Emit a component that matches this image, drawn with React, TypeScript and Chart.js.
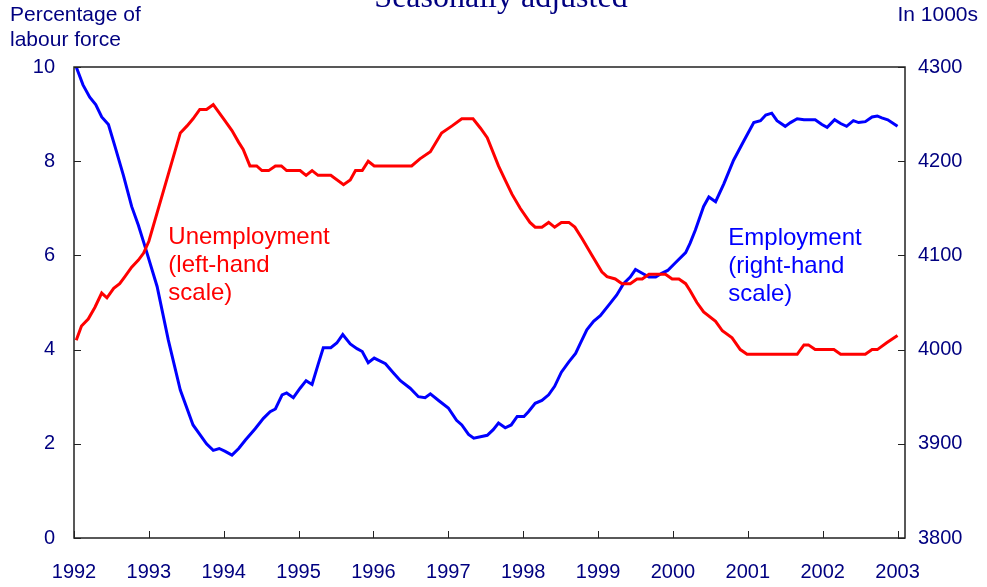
import React, { useEffect, useRef } from "react";
import { Chart, registerables } from "chart.js";

Chart.register(...registerables);

// ---- Data (decimal years) ----
const unempYears = [
  1992.03, 1992.10, 1992.19, 1992.28, 1992.37, 1992.44, 1992.53, 1992.61, 1992.68, 1992.77,
  1992.86, 1992.93, 1993.00, 1993.42, 1993.51, 1993.59, 1993.68, 1993.77, 1993.86, 1994.02,
  1994.11, 1994.20, 1994.26, 1994.35, 1994.44, 1994.51, 1994.60, 1994.69, 1994.77, 1994.84,
  1995.02, 1995.10, 1995.18, 1995.26, 1995.43, 1995.60, 1995.69, 1995.76, 1995.85, 1995.93,
  1996.01, 1996.51, 1996.62, 1996.76, 1996.91, 1997.05, 1997.18, 1997.33, 1997.43, 1997.52,
  1997.67, 1997.76, 1997.85, 1997.96, 1998.09, 1998.16, 1998.25, 1998.34, 1998.42, 1998.51,
  1998.61, 1998.69, 1998.79, 1998.92, 1999.05, 1999.12, 1999.23, 1999.32, 1999.43, 1999.52,
  1999.59, 1999.68, 1999.90, 1999.99, 2000.08, 2000.17, 2000.23, 2000.32, 2000.41, 2000.57,
  2000.66, 2000.79, 2000.90, 2000.99, 2001.66, 2001.75, 2001.81, 2001.90, 2002.15, 2002.24,
  2002.57, 2002.66, 2002.73, 2002.86, 2003.00,
];
const unempValues = [
  4.2, 4.5, 4.65, 4.9, 5.2, 5.1, 5.3, 5.4, 5.55, 5.75,
  5.9, 6.05, 6.3, 8.6, 8.75, 8.9, 9.1, 9.1, 9.2, 8.85,
  8.65, 8.4, 8.25, 7.9, 7.9, 7.8, 7.8, 7.9, 7.9, 7.8,
  7.8, 7.7, 7.8, 7.7, 7.7, 7.5, 7.6, 7.8, 7.8, 8.0,
  7.9, 7.9, 8.05, 8.2, 8.6, 8.75, 8.9, 8.9, 8.7, 8.5,
  7.9, 7.6, 7.3, 7.0, 6.7, 6.6, 6.6, 6.7, 6.6, 6.7,
  6.7, 6.6, 6.35, 6.0, 5.65, 5.55, 5.5, 5.4, 5.4, 5.5,
  5.5, 5.6, 5.6, 5.5, 5.5, 5.4, 5.25, 5.0, 4.8, 4.6,
  4.4, 4.25, 4.0, 3.9, 3.9, 4.1, 4.1, 4.0, 4.0, 3.9,
  3.9, 4.0, 4.0, 4.15, 4.3,
];

const emplYears = [
  1992.03, 1992.12, 1992.21, 1992.29, 1992.37, 1992.46, 1992.55, 1992.66, 1992.77, 1992.86,
  1992.95, 1993.11, 1993.26, 1993.42, 1993.59, 1993.77, 1993.86, 1993.94, 1994.02, 1994.11,
  1994.20, 1994.29, 1994.42, 1994.53, 1994.62, 1994.69, 1994.78, 1994.84, 1994.93, 1995.02,
  1995.10, 1995.18, 1995.26, 1995.33, 1995.43, 1995.51, 1995.59, 1995.69, 1995.78, 1995.85,
  1995.93, 1996.01, 1996.16, 1996.27, 1996.36, 1996.49, 1996.60, 1996.69, 1996.76, 1996.87,
  1997.00, 1997.11, 1997.18, 1997.27, 1997.34, 1997.52, 1997.60, 1997.67, 1997.76, 1997.84,
  1997.92, 1998.01, 1998.07, 1998.16, 1998.25, 1998.34, 1998.42, 1998.51, 1998.61, 1998.70,
  1998.76, 1998.85, 1998.94, 1999.03, 1999.14, 1999.25, 1999.34, 1999.43, 1999.50, 1999.59,
  1999.68, 1999.77, 1999.85, 1999.93, 2000.03, 2000.17, 2000.23, 2000.30, 2000.41, 2000.48,
  2000.57, 2000.68, 2000.81, 2000.95, 2001.08, 2001.17, 2001.24, 2001.32, 2001.39, 2001.50,
  2001.57, 2001.66, 2001.75, 2001.90, 2001.99, 2002.06, 2002.16, 2002.24, 2002.32, 2002.41,
  2002.48, 2002.57, 2002.66, 2002.73, 2002.79, 2002.87, 2003.00,
];
const emplValues = [
  4300, 4281, 4268, 4260, 4247, 4239, 4215, 4185, 4152, 4132,
  4109, 4067, 4010, 3957, 3920, 3900, 3893, 3895, 3892, 3888,
  3895, 3904, 3916, 3927, 3934, 3937, 3952, 3954, 3949, 3959,
  3967, 3963, 3984, 4002, 4002, 4007, 4016, 4006, 4001, 3998,
  3986, 3991, 3985, 3975, 3967, 3959, 3950, 3949, 3953, 3946,
  3938, 3925, 3920, 3910, 3906, 3909, 3915, 3922, 3917, 3920,
  3929, 3929, 3934, 3943, 3946, 3952, 3961, 3976, 3987, 3996,
  4006, 4021, 4030, 4036, 4047, 4058, 4070, 4077, 4085, 4081,
  4077, 4077, 4081, 4084, 4092, 4103, 4113, 4127, 4152, 4162,
  4157, 4176, 4201, 4222, 4241, 4243, 4249, 4251, 4243, 4237,
  4241, 4245, 4244, 4244, 4239, 4236, 4244, 4240, 4237, 4243,
  4241, 4242, 4247, 4248, 4246, 4244, 4237,
];

const yearTicks = [1992, 1993, 1994, 1995, 1996, 1997, 1998, 1999, 2000, 2001, 2002, 2003];
const leftTicks = [0, 2, 4, 6, 8, 10];
const rightTicks = [3800, 3900, 4000, 4100, 4200, 4300];

const titleText = "Seasonally adjusted";
const leftAxisTitle = ["Percentage of", "labour force"];
const rightAxisTitle = "In 1000s";
const unempLabel = ["Unemployment", "(left-hand", "scale)"];
const emplLabel = ["Employment", "(right-hand", "scale)"];

const NAVY = "#000080";
const SANS = "'Liberation Sans', Arial, sans-serif";

export default function App() {
  const canvasRef = useRef<HTMLCanvasElement | null>(null);

  useEffect(() => {
    document.body.style.margin = "0";
    const canvas = canvasRef.current;
    if (!canvas) return;

    const decorations = {
      id: "decorations",
      afterDraw(chart: any) {
        const { ctx, chartArea } = chart;
        const x = chart.scales.x;
        const yl = chart.scales.yLeft;
        const yr = chart.scales.yRight;
        ctx.save();
        // frame
        ctx.strokeStyle = "#222";
        ctx.lineWidth = 1.5;
        ctx.strokeRect(chartArea.left, chartArea.top, chartArea.right - chartArea.left, chartArea.bottom - chartArea.top);
        // inward ticks
        ctx.lineWidth = 1;
        ctx.beginPath();
        const tl = 7;
        yearTicks.forEach((v) => {
          const px = Math.round(x.getPixelForValue(v)) + 0.5;
          ctx.moveTo(px, chartArea.bottom);
          ctx.lineTo(px, chartArea.bottom - tl);
        });
        leftTicks.forEach((v) => {
          const py = Math.round(yl.getPixelForValue(v)) + 0.5;
          ctx.moveTo(chartArea.left, py);
          ctx.lineTo(chartArea.left + tl, py);
        });
        rightTicks.forEach((v) => {
          const py = Math.round(yr.getPixelForValue(v)) + 0.5;
          ctx.moveTo(chartArea.right, py);
          ctx.lineTo(chartArea.right - tl, py);
        });
        ctx.stroke();

        // title (partially clipped at top)
        ctx.fillStyle = NAVY;
        ctx.font = "32px 'Liberation Serif', 'Times New Roman', serif";
        ctx.textAlign = "center";
        ctx.textBaseline = "alphabetic";
        ctx.fillText(titleText, 501, 7);

        // axis titles
        ctx.font = "21px " + SANS;
        ctx.textAlign = "left";
        ctx.fillText(leftAxisTitle[0], 10, 21);
        ctx.fillText(leftAxisTitle[1], 10, 46);
        ctx.textAlign = "right";
        ctx.fillText(rightAxisTitle, 978, 21);

        // series labels
        ctx.font = "24px " + SANS;
        ctx.textAlign = "left";
        ctx.textBaseline = "middle";
        ctx.fillStyle = "#ff0000";
        const ux = x.getPixelForValue(1993.26);
        const uy = yl.getPixelForValue(6.39);
        unempLabel.forEach((t, i) => ctx.fillText(t, ux, uy + i * 28));
        ctx.fillStyle = "#0000ff";
        const ex = x.getPixelForValue(2000.74);
        const ey = yl.getPixelForValue(6.37);
        emplLabel.forEach((t, i) => ctx.fillText(t, ex, ey + i * 28));
        ctx.restore();
      },
    };

    const chart = new Chart(canvas, {
      type: "line",
      data: {
        datasets: [
          {
            label: "Unemployment",
            data: unempYears.map((yr, i) => ({ x: yr, y: unempValues[i] })),
            borderColor: "#ff0000",
            borderWidth: 3,
            pointRadius: 0,
            tension: 0,
            yAxisID: "yLeft",
          },
          {
            label: "Employment",
            data: emplYears.map((yr, i) => ({ x: yr, y: emplValues[i] })),
            borderColor: "#0000ff",
            borderWidth: 3,
            pointRadius: 0,
            tension: 0,
            yAxisID: "yRight",
          },
        ],
      },
      options: {
        responsive: false,
        animation: false,
        layout: { padding: { top: 67, left: 0, right: 0, bottom: 0 } },
        plugins: { legend: { display: false }, tooltip: { enabled: false }, title: { display: false } },
        scales: {
          x: {
            type: "linear",
            min: 1992,
            max: 2003.1,
            grid: { display: false, drawTicks: false },
            border: { display: false },
            afterBuildTicks: (s: any) => {
              s.ticks = yearTicks.map((v) => ({ value: v }));
            },
            afterFit: (s: any) => {
              s.height = 49;
            },
            ticks: {
              autoSkip: false,
              maxRotation: 0,
              padding: 22,
              color: NAVY,
              font: { family: SANS, size: 20 },
              callback: (v: any) => String(v),
            },
          },
          yLeft: {
            type: "linear",
            position: "left",
            min: 0,
            max: 10,
            grid: { display: false, drawTicks: false },
            border: { display: false },
            afterBuildTicks: (s: any) => {
              s.ticks = leftTicks.map((v) => ({ value: v }));
            },
            afterFit: (s: any) => {
              s.width = 74;
            },
            ticks: {
              padding: 19,
              color: NAVY,
              font: { family: SANS, size: 20 },
              callback: (v: any) => String(v),
            },
          },
          yRight: {
            type: "linear",
            position: "right",
            min: 3800,
            max: 4300,
            grid: { display: false, drawTicks: false },
            border: { display: false },
            afterBuildTicks: (s: any) => {
              s.ticks = rightTicks.map((v) => ({ value: v }));
            },
            afterFit: (s: any) => {
              s.width = 82;
            },
            ticks: {
              padding: 13,
              color: NAVY,
              font: { family: SANS, size: 20 },
              callback: (v: any) => String(v),
            },
          },
        },
      },
      plugins: [decorations],
    });

    return () => chart.destroy();
  }, []);

  return (
    <div style={{ width: 987, height: 587 }}>
      <canvas ref={canvasRef} width={987} height={587} style={{ display: "block" }} />
    </div>
  );
}
